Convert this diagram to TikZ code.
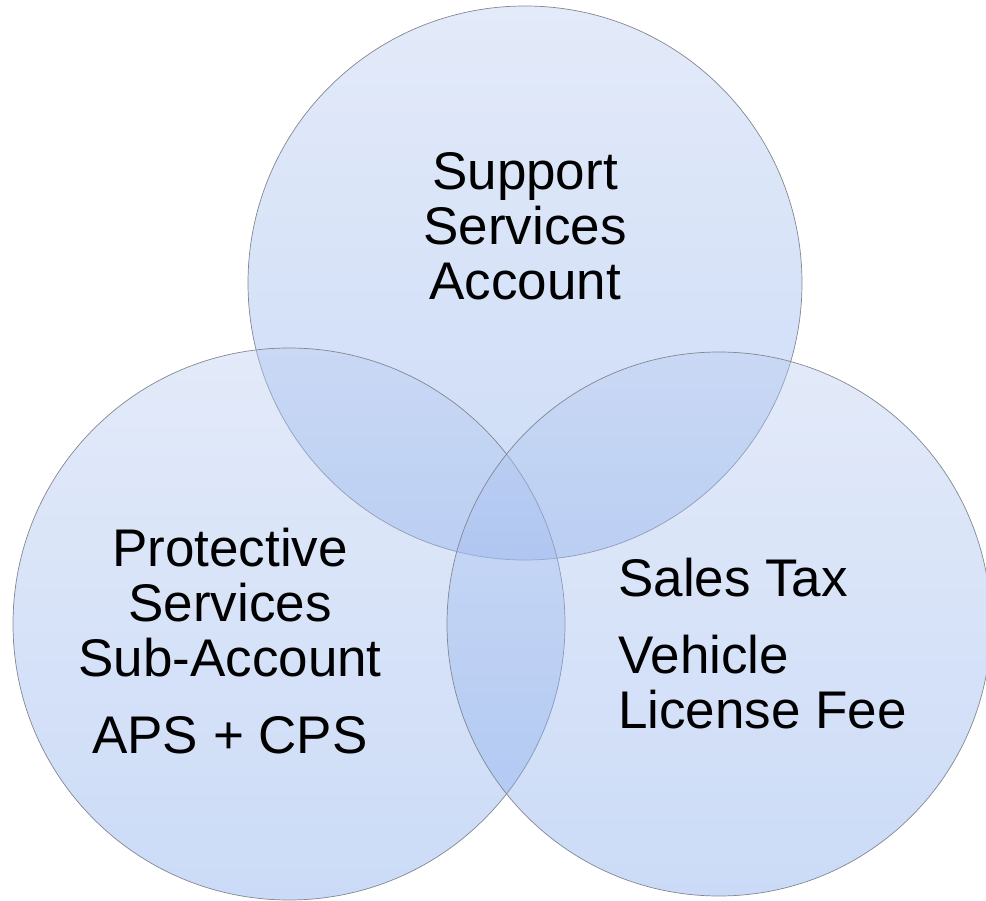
\documentclass[tikz,border=0pt]{standalone}
\usepackage{fontspec}
\setmainfont{Liberation Sans}
\definecolor{ctop}{RGB}{185,203,240}
\definecolor{cbot}{RGB}{125,165,235}
\definecolor{cedge}{RGB}{130,135,145}
\begin{document}
\begin{tikzpicture}[x=1pt,y=-1pt,
  venn/.style={circle, inner sep=0pt, minimum size=#1, top color=ctop, bottom color=cbot,
     fill opacity=0.4, draw=cedge, draw opacity=1, line width=0.7pt},
  lbl/.style={font=\fontsize{53}{55}\selectfont, text=black, inner sep=0pt}]
\useasboundingbox (0,0) rectangle (986,901);
\node[venn=554pt] (csup) at (525,283) {};
\node[venn=552pt] (cpro) at (289,624) {};
\node[venn=544pt] (csal) at (719,624) {};
\node[lbl, align=center] (tsup) at (525,226) {Support\\Services\\Account};
\node[lbl, align=center] (tpro) at (230,641) {Protective\\Services\\Sub-Account\\[22pt]APS + CPS};
\node[lbl, align=left, anchor=west] (tsal) at (618,644) {Sales Tax\\[22pt]Vehicle\\License Fee};
\end{tikzpicture}
\end{document}
